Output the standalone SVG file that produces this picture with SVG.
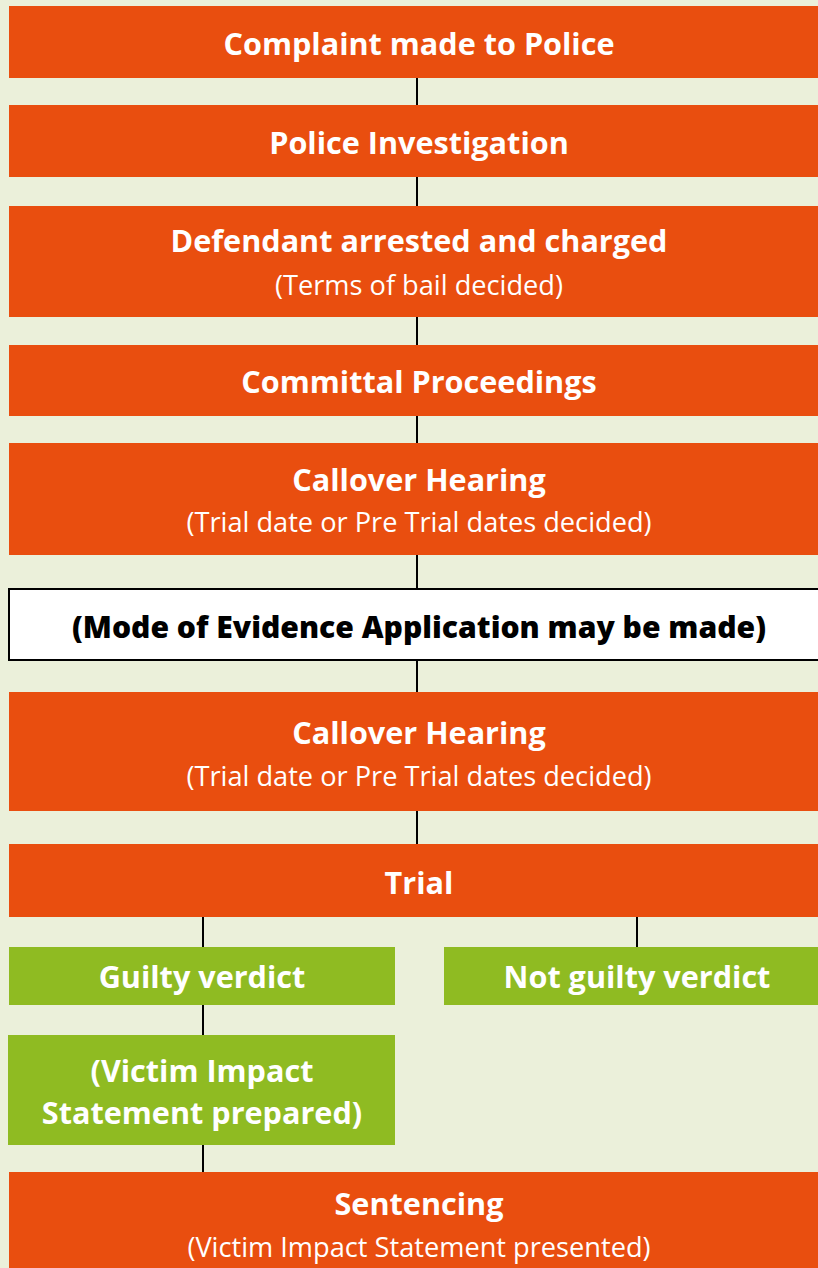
<svg xmlns="http://www.w3.org/2000/svg" width="818" height="1268" viewBox="0 0 818 1268">
<style>
.o{fill:#E94E0F}
.g{fill:#8FBB22}
text{font-family:"Open Sans",Lato,sans-serif;font-variant-ligatures:none;text-anchor:middle}
.t{font-weight:700;font-size:30.6px;fill:#fff}
.s{font-weight:400;font-size:27.2px;fill:#fff}
.k{font-weight:800;font-size:30.1px;fill:#000}
.c{stroke:#000;stroke-width:2;fill:none}
</style>
<rect width="818" height="1268" fill="#EBF0DA"/>
<g id="connectors">
<line class="c" x1="417" y1="78" x2="417" y2="105"/>
<line class="c" x1="417" y1="177" x2="417" y2="206"/>
<line class="c" x1="417" y1="317" x2="417" y2="345"/>
<line class="c" x1="417" y1="416" x2="417" y2="443"/>
<line class="c" x1="417" y1="555" x2="417" y2="588"/>
<line class="c" x1="417" y1="661" x2="417" y2="692"/>
<line class="c" x1="417" y1="811" x2="417" y2="844"/>
<line class="c" x1="203" y1="917" x2="203" y2="947"/>
<line class="c" x1="637" y1="917" x2="637" y2="947"/>
<line class="c" x1="203" y1="1005" x2="203" y2="1035"/>
<line class="c" x1="203" y1="1145" x2="203" y2="1172"/>
</g>
<g id="complaint"><rect class="o" x="9" y="6" width="820" height="72"/><text class="t" x="419" y="55">Complaint made to Police</text></g>
<g id="investigation"><rect class="o" x="9" y="105" width="820" height="72"/><text class="t" x="419" y="154">Police Investigation</text></g>
<g id="arrested"><rect class="o" x="9" y="206" width="820" height="111"/><text class="t" x="419" y="252">Defendant arrested and charged</text><text class="s" x="419" y="295">(Terms of bail decided)</text></g>
<g id="committal"><rect class="o" x="9" y="345" width="820" height="71"/><text class="t" x="419" y="393">Committal Proceedings</text></g>
<g id="callover1"><rect class="o" x="9" y="443" width="820" height="112"/><text class="t" x="419" y="491">Callover Hearing</text><text class="s" x="419" y="532">(Trial date or Pre Trial dates decided)</text></g>
<g id="mode"><rect x="9" y="589" width="820" height="71" fill="#fff" stroke="#000" stroke-width="2"/><text class="k" x="419" y="638">(Mode of Evidence Application may be made)</text></g>
<g id="callover2"><rect class="o" x="9" y="692" width="820" height="119"/><text class="t" x="419" y="744">Callover Hearing</text><text class="s" x="419" y="786">(Trial date or Pre Trial dates decided)</text></g>
<g id="trial"><rect class="o" x="9" y="844" width="820" height="73"/><text class="t" x="419" y="894">Trial</text></g>
<g id="guilty"><rect class="g" x="9" y="947" width="386" height="58"/><text class="t" x="202" y="988">Guilty verdict</text></g>
<g id="notguilty"><rect class="g" x="444" y="947" width="385" height="58"/><text class="t" x="637" y="988">Not guilty verdict</text></g>
<g id="victim"><rect class="g" x="8" y="1035" width="387" height="110"/><text class="t" x="202" y="1082">(Victim Impact</text><text class="t" x="202" y="1124">Statement prepared)</text></g>
<g id="sentencing"><rect class="o" x="9" y="1172" width="820" height="100"/><text class="t" x="419" y="1215">Sentencing</text><text class="s" x="419" y="1257">(Victim Impact Statement presented)</text></g>
</svg>
